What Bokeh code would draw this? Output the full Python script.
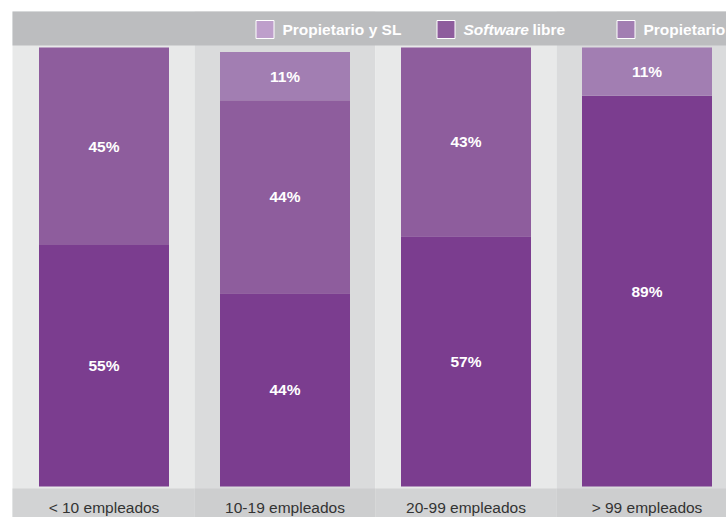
import numpy as np
from bokeh.plotting import figure
from bokeh.models import Range1d
from bokeh.core.properties import value
from bokeh.embed import file_html
from bokeh.resources import INLINE

# ---- data ----
categories = ["< 10 empleados", "10-19 empleados", "20-99 empleados", "> 99 empleados"]
serie_oscura = [55, 44, 57, 89]      # bottom segment (dark purple)
serie_media = [45, 44, 43, 0]        # middle segment
serie_clara = [0, 11, 0, 11]         # top segment (light purple)
legend_labels = ["Propietario y SL", "Software libre", "Propietario"]

# ---- styles ----
FONT = "Liberation Sans"
FS = "15.5px"
c_dark = "#7b3d8f"
c_mid = "#8e5d9d"
c_light = "#a27eb2"
legend_colors = ["#be9fcb", "#8e5d9d", "#a27eb2"]
col_bg = ["#e8e9e9", "#dadbdc"]
band_bg = ["#d2d3d4", "#cdcecf"]
header_bg = "#bcbdbf"

n = len(categories)
xc = np.arange(n) + 0.5

# geometry in picture pixels
FIG_W, FIG_H = 726, 517
PAGE_OFF = 0
FRAME_L, FRAME_T = 12, 11
FRAME_R, FRAME_B = PAGE_OFF + FIG_W, PAGE_OFF + FIG_H
PX_PER_X = 181.0
X0_PX = 13.0
PX_PER_Y = 4.39
Y0_PX = 486.0
def xd(px):
    return (px - X0_PX) / PX_PER_X
def yd(py):
    return (Y0_PX - py) / PX_PER_Y

p = figure(width=FIG_W, height=FIG_H, output_backend="svg", toolbar_location=None,
           x_axis_type=None, y_axis_type=None,
           x_range=Range1d(xd(FRAME_L), xd(FRAME_R)), y_range=Range1d(yd(FRAME_B), yd(FRAME_T)),
           min_border_left=FRAME_L - PAGE_OFF, min_border_top=FRAME_T - PAGE_OFF,
           min_border_right=0, min_border_bottom=0)
p.outline_line_color = None
p.background_fill_color = "white"
p.border_fill_color = "white"
p.grid.visible = False

# column backgrounds
idx = np.arange(n)
lefts = idx.astype(float)
rights = idx + 1.0
lefts[0] = xd(0)
rights[-1] = xd(800)
colcolors = [col_bg[i % 2] for i in idx]
bandcolors = [band_bg[i % 2] for i in idx]
p.quad(left=lefts, right=rights, bottom=yd(600), top=yd(0), color=colcolors, line_color=None)
p.quad(left=lefts, right=rights, bottom=yd(600), top=yd(488), color=bandcolors, line_color=None)
# header band
p.quad(left=[xd(0)], right=[xd(800)], bottom=[yd(45)], top=[yd(0)], color=header_bg, line_color=None)

# stacked bars
s1 = np.array(serie_oscura, dtype=float)
s2 = np.array(serie_media, dtype=float)
s3 = np.array(serie_clara, dtype=float)
bw = 130 / PX_PER_X
p.vbar(x=xc, width=bw, bottom=0, top=s1, color=c_dark, line_color=None)
p.vbar(x=xc, width=bw, bottom=s1, top=s1 + s2, color=c_mid, line_color=None)
p.vbar(x=xc, width=bw, bottom=s1 + s2, top=s1 + s2 + s3, color=c_light, line_color=None)

# value labels
lx, ly, lt = [], [], []
for i in range(n):
    base = 0.0
    for v in (s1[i], s2[i], s3[i]):
        if v > 0:
            lx.append(xc[i]); ly.append(base + v / 2); lt.append(f"{int(v)}%")
        base += v
p.text(x=lx, y=ly, text=lt, text_color="white", text_font=value(FONT),
       text_font_style="bold", text_font_size=FS, text_align="center", text_baseline="middle")

# category labels
p.text(x=xc, y=[yd(507)] * n, text=categories, text_color="#333333", text_font=value(FONT),
       text_font_size=FS, text_align="center", text_baseline="middle")

# legend in header
leg_text_x = [xd(282), xd(463), xd(643)]
leg_y = yd(29)
p.rect(x=[t - 17.5 / PX_PER_X for t in leg_text_x], y=[leg_y] * 3, width=18, height=18,
       width_units="screen", height_units="screen", fill_color=legend_colors,
       line_color="white", line_width=1)
p.text(x=[leg_text_x[0], leg_text_x[2]], y=[leg_y] * 2, text=[legend_labels[0], legend_labels[2]],
       text_color="white", text_font=value(FONT), text_font_style="bold", text_font_size=FS,
       text_align="left", text_baseline="middle")
word1, word2 = legend_labels[1].split(" ", 1)
p.text(x=[leg_text_x[1]], y=[leg_y], text=[word1], text_color="white", text_font=value(FONT),
       text_font_style="bold italic", text_font_size=FS, text_align="left", text_baseline="middle")
p.text(x=[leg_text_x[1]], y=[leg_y], text=[word2], x_offset=69, text_color="white",
       text_font=value(FONT), text_font_style="bold", text_font_size=FS,
       text_align="left", text_baseline="middle")

open("out.html", "w").write(file_html(p, INLINE))
